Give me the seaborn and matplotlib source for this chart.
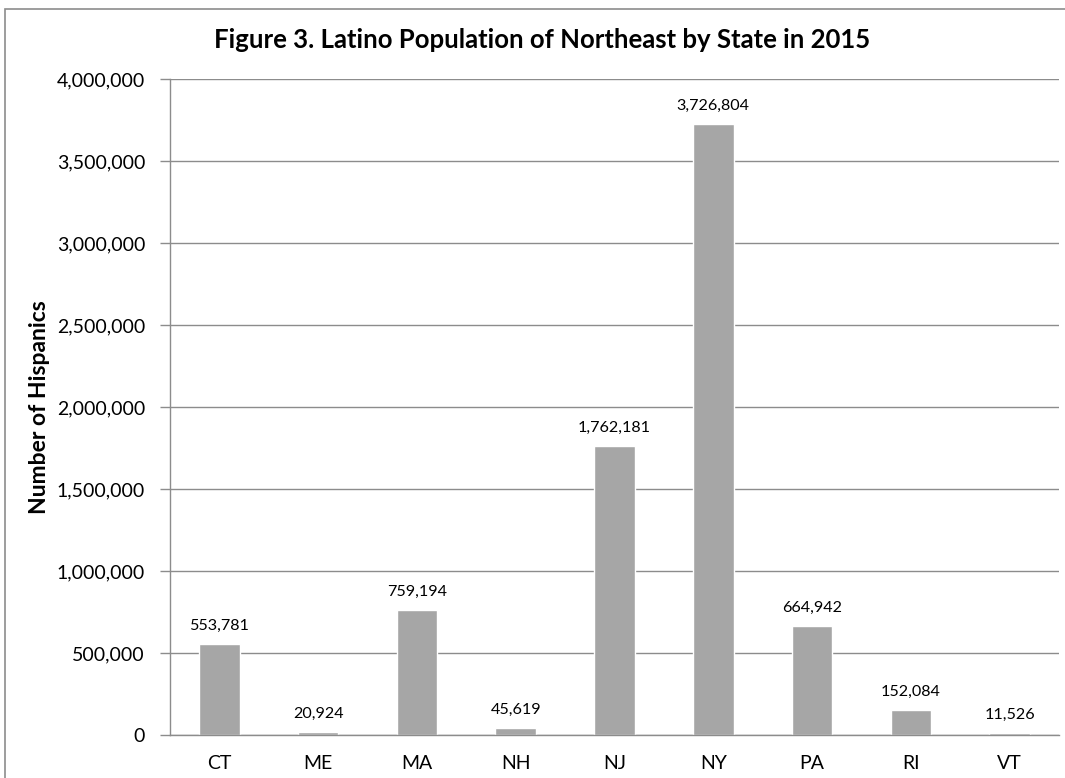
import matplotlib.pyplot as plt
import pandas as pd
import seaborn as sns
from matplotlib.patches import Rectangle
from matplotlib.ticker import FuncFormatter

states = ["CT", "ME", "MA", "NH", "NJ", "NY", "PA", "RI", "VT"]
hispanics = [553781, 20924, 759194, 45619, 1762181, 3726804, 664942, 152084, 11526]

df = pd.DataFrame({"state": states, "hispanics": hispanics})

sns.set_style("white")
plt.rcParams["font.family"] = ["Lato", "DejaVu Sans"]
plt.rcParams["text.color"] = "black"
plt.rcParams["xtick.color"] = "black"
plt.rcParams["ytick.color"] = "black"

fig = plt.figure(figsize=(10.65, 7.78), dpi=100)
ax = fig.add_axes([170 / 1065, 1 - 735 / 778, 889 / 1065, (735 - 79) / 778])

sns.barplot(data=df, x="state", y="hispanics", color="#a6a6a6",
            saturation=1, width=0.41, ax=ax)

ax.set_ylim(0, 4000000)
ax.set_yticks(range(0, 4000001, 500000))
ax.yaxis.set_major_formatter(FuncFormatter(lambda v, p: f"{int(v):,}"))
ax.yaxis.grid(True, color="#8c8c8c", linewidth=1)
ax.set_axisbelow(True)
ax.tick_params(axis="y", left=True, length=7, width=1, color="#8c8c8c",
               labelcolor="black", labelsize=14, pad=11)
ax.tick_params(axis="x", bottom=False, labelcolor="black", labelsize=14, pad=11)
for side in ["top", "right"]:
    ax.spines[side].set_visible(False)
for side in ["left", "bottom"]:
    ax.spines[side].set_color("#8c8c8c")
    ax.spines[side].set_linewidth(1)

for i, v in enumerate(hispanics):
    ax.annotate(f"{v:,}", (i, v), xytext=(0, 8), textcoords="offset points",
                ha="center", va="bottom", fontsize=11.6, color="black")

ax.set_xlabel("")
ax.set_ylabel("Number of Hispanics", fontsize=16.5, fontweight="bold", color="black")
ax.yaxis.set_label_coords(-120 / 889, 0.5)

fig.text(0.509, 1 - 40 / 778, "Figure 3. Latino Population of Northeast by State in 2015",
         ha="center", va="center", fontsize=18.5, fontweight="bold", color="black")

fig.patches.append(Rectangle((5 / 1065, -0.05), 1.1, 1 - 9 / 778 + 0.05,
                             transform=fig.transFigure, fill=False,
                             edgecolor="#8c8c8c", linewidth=1.2))

fig.savefig("out.png", dpi=100)
